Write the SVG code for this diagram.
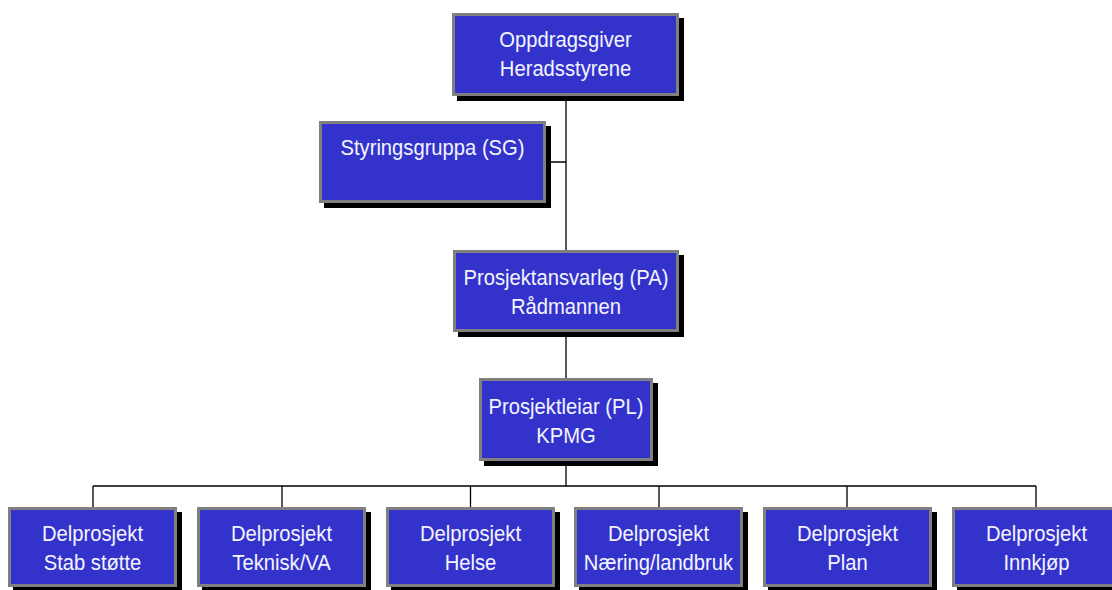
<svg xmlns="http://www.w3.org/2000/svg" width="1112" height="590" viewBox="0 0 1112 590">
<style>
.sh{fill:#000}
.bx{fill:#3333cc;stroke:#808080;stroke-width:3}
.t{font-family:"Liberation Sans",Arial,sans-serif;font-size:20px;fill:#f4f4ff;text-anchor:middle}
.c{stroke:#000;stroke-width:1.3;fill:none}
</style>
<rect width="1112" height="590" fill="#fff"/>
<g id="connectors">
<path class="c" d="M566 96V250M546 162H566M566 332V378M566 461V486M93 486H1036M93 486V507M282 486V507M470.5 486V507M659 486V507M847 486V507M1036 486V507"/>
</g>
<g id="oppdragsgiver">
<rect class="sh" x="457" y="18" width="227" height="83"/>
<rect class="bx" x="453.5" y="14.5" width="224" height="80"/>
<text class="t" transform="translate(565.5,47) scale(1.01,1.13)">Oppdragsgiver</text>
<text class="t" transform="translate(565.5,76) scale(1.01,1.13)">Heradsstyrene</text>
</g>
<g id="styringsgruppa">
<rect class="sh" x="324" y="126" width="227" height="82"/>
<rect class="bx" x="320.5" y="122.5" width="224" height="79"/>
<text class="t" transform="translate(432.5,155) scale(1.01,1.13)">Styringsgruppa (SG)</text>
</g>
<g id="prosjektansvarleg">
<rect class="sh" x="458" y="255" width="226" height="82"/>
<rect class="bx" x="454.5" y="251.5" width="223" height="79"/>
<text class="t" transform="translate(566,285) scale(1.01,1.13)">Prosjektansvarleg (PA)</text>
<text class="t" transform="translate(566,314) scale(1.01,1.13)">Rådmannen</text>
</g>
<g id="prosjektleiar">
<rect class="sh" x="484" y="383" width="174" height="83"/>
<rect class="bx" x="480.5" y="379.5" width="171" height="80"/>
<text class="t" transform="translate(566,414) scale(1.01,1.13)">Prosjektleiar (PL)</text>
<text class="t" transform="translate(566,443) scale(1.01,1.13)">KPMG</text>
</g>
<g id="dp-stab">
<rect class="sh" x="13" y="512" width="169" height="80"/>
<rect class="bx" x="9.5" y="508.5" width="166" height="77"/>
<text class="t" transform="translate(92.5,541) scale(1.01,1.13)">Delprosjekt</text>
<text class="t" transform="translate(92.5,570) scale(1.01,1.13)">Stab støtte</text>
</g>
<g id="dp-teknisk">
<rect class="sh" x="202" y="512" width="169" height="80"/>
<rect class="bx" x="198.5" y="508.5" width="166" height="77"/>
<text class="t" transform="translate(281.5,541) scale(1.01,1.13)">Delprosjekt</text>
<text class="t" transform="translate(281.5,570) scale(1.01,1.13)">Teknisk/VA</text>
</g>
<g id="dp-helse">
<rect class="sh" x="391" y="512" width="169" height="80"/>
<rect class="bx" x="387.5" y="508.5" width="166" height="77"/>
<text class="t" transform="translate(470.5,541) scale(1.01,1.13)">Delprosjekt</text>
<text class="t" transform="translate(470.5,570) scale(1.01,1.13)">Helse</text>
</g>
<g id="dp-naering">
<rect class="sh" x="579" y="512" width="169" height="80"/>
<rect class="bx" x="575.5" y="508.5" width="166" height="77"/>
<text class="t" transform="translate(658.5,541) scale(1.01,1.13)">Delprosjekt</text>
<text class="t" transform="translate(658.5,570) scale(1.01,1.13)">Næring/landbruk</text>
</g>
<g id="dp-plan">
<rect class="sh" x="768" y="512" width="169" height="80"/>
<rect class="bx" x="764.5" y="508.5" width="166" height="77"/>
<text class="t" transform="translate(847.5,541) scale(1.01,1.13)">Delprosjekt</text>
<text class="t" transform="translate(847.5,570) scale(1.01,1.13)">Plan</text>
</g>
<g id="dp-innkjop">
<rect class="sh" x="957" y="512" width="170" height="80"/>
<rect class="bx" x="953.5" y="508.5" width="175" height="77"/>
<text class="t" transform="translate(1036.5,541) scale(1.01,1.13)">Delprosjekt</text>
<text class="t" transform="translate(1036.5,570) scale(1.01,1.13)">Innkjøp</text>
</g>
</svg>
